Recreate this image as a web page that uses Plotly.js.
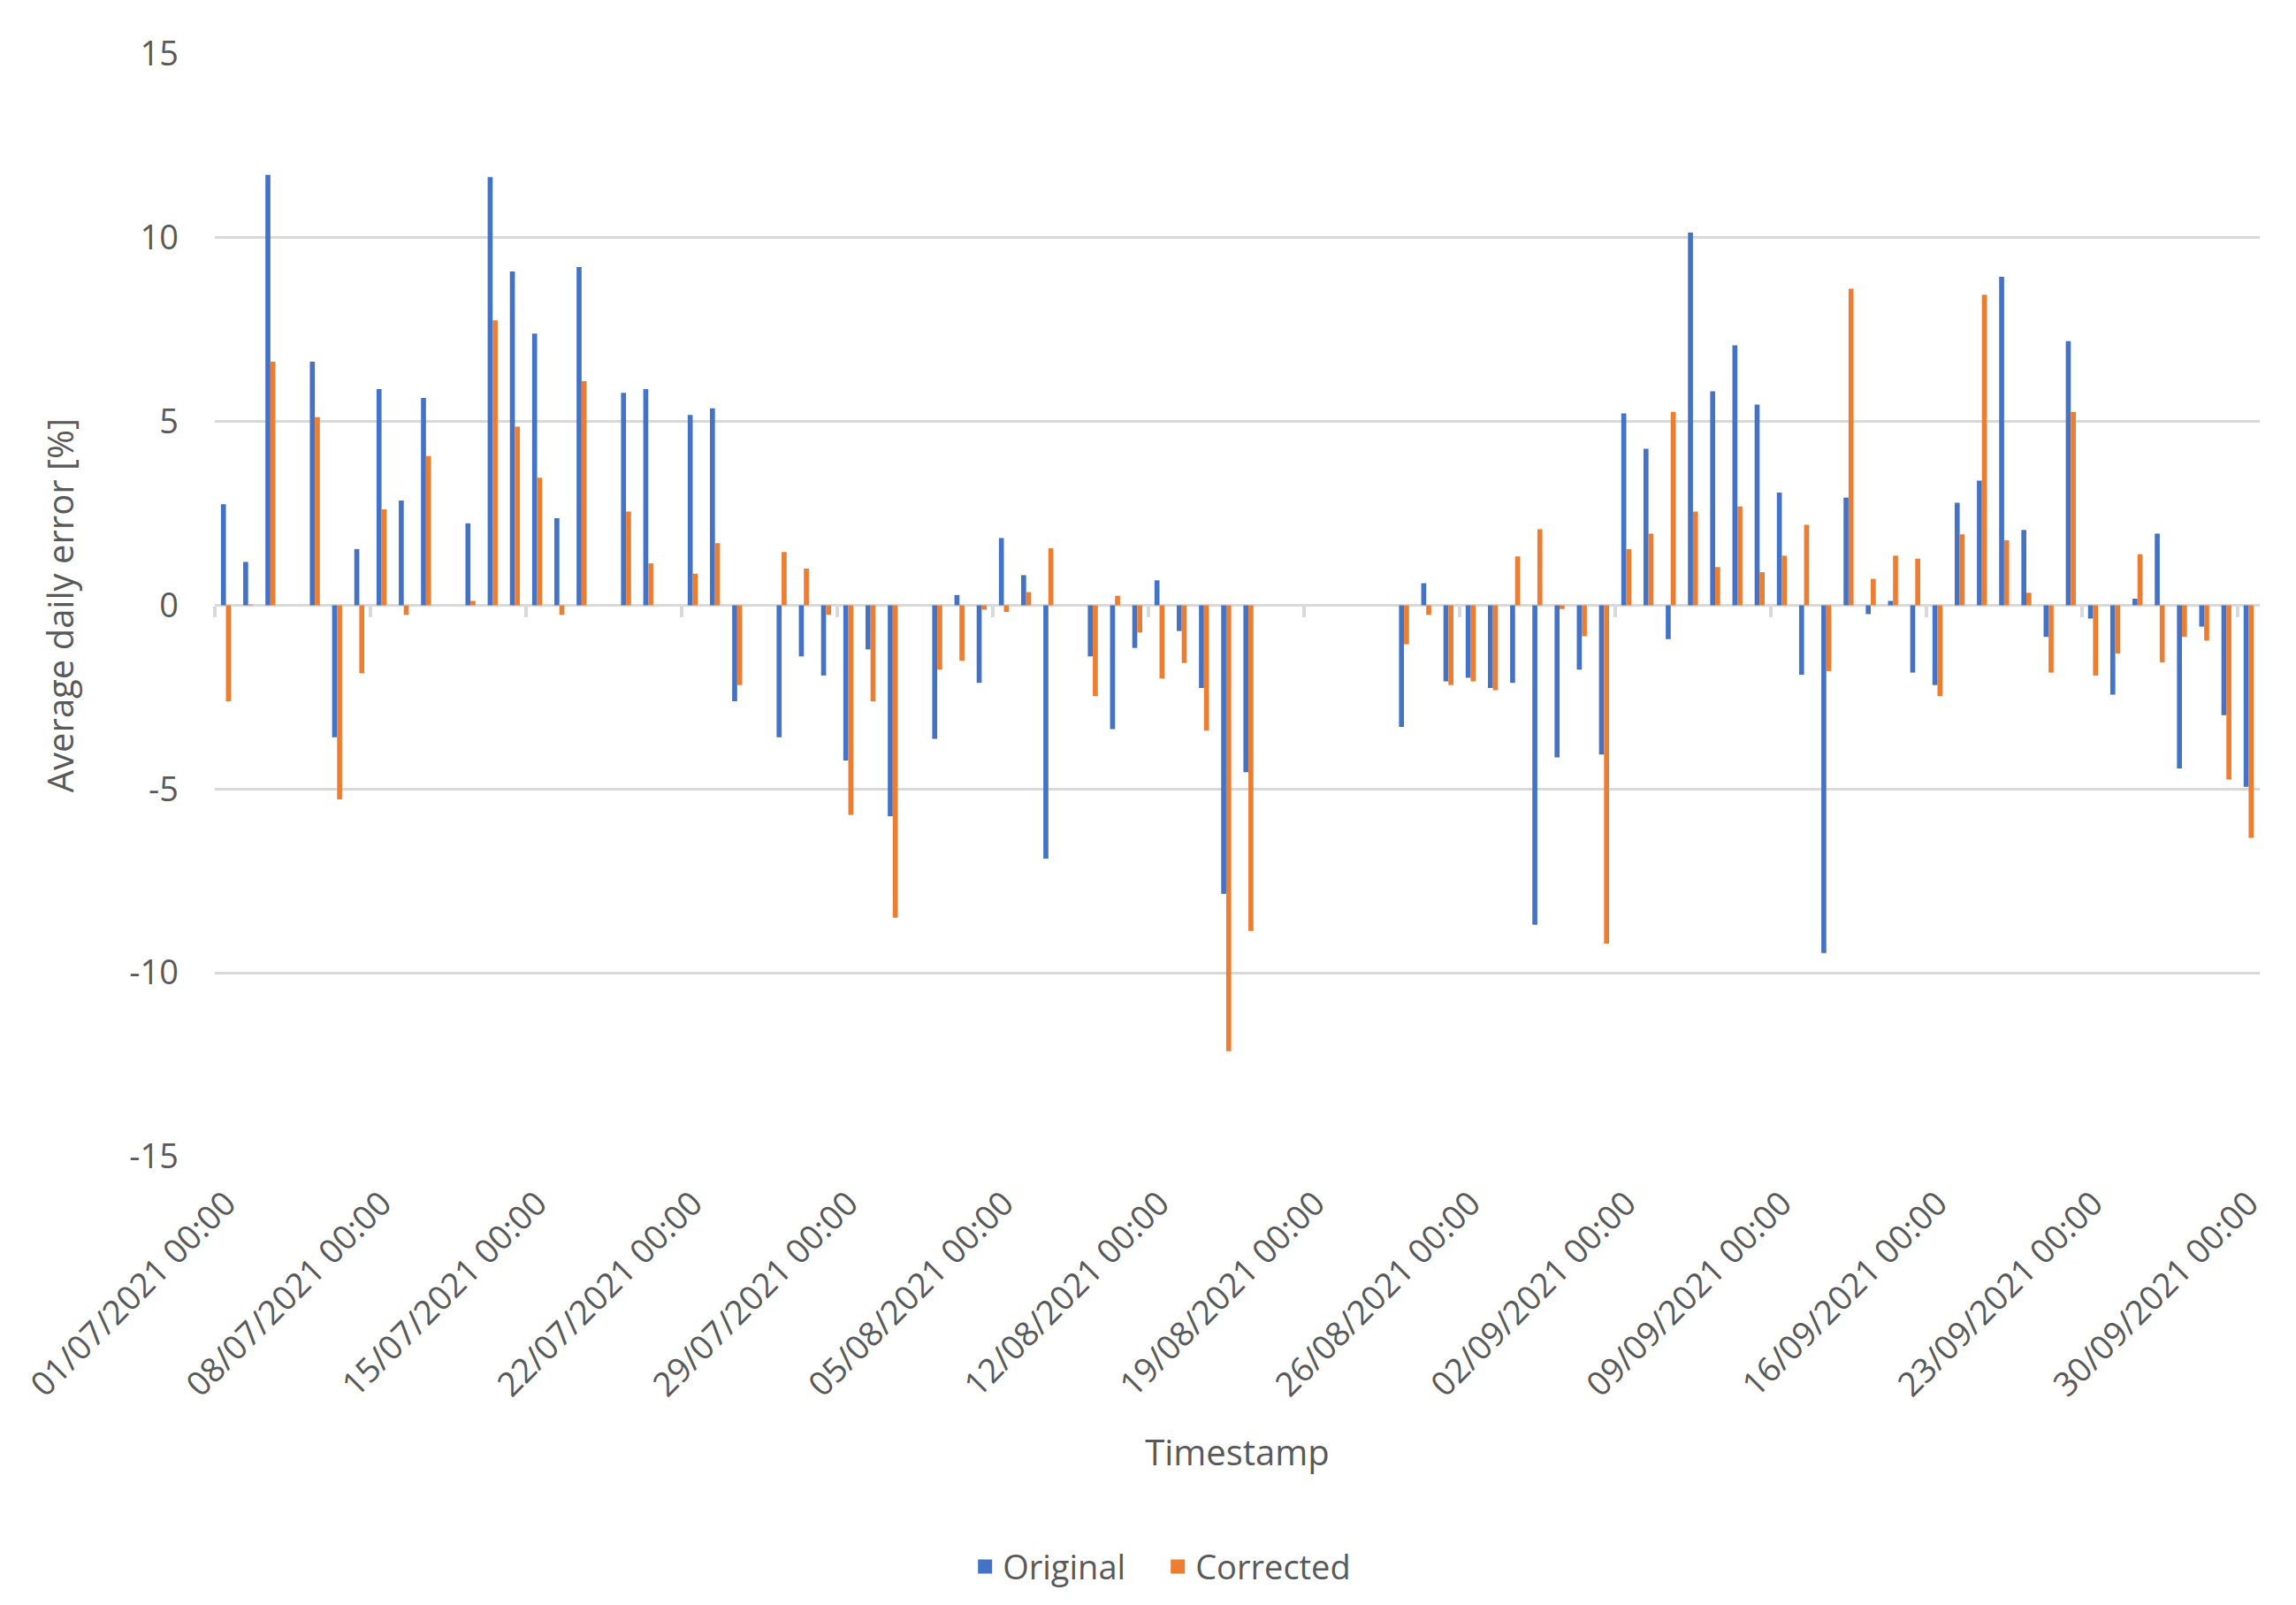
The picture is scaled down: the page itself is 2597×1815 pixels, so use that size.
<!DOCTYPE html>
<html>
<head>
<meta charset="utf-8">
<script src="https://cdn.plot.ly/plotly-3.0.1.min.js"></script>
<style>html,body{margin:0;padding:0;background:#fff;}#chart{width:2597px;height:1815px;}</style>
</head>
<body>
<div id="chart"></div>
<script>
// Category sequence: one slot per day, 01/07/2021 .. 30/09/2021
const startDate = '2021-07-01';
const dayCount = 92;
const days = [];
for (let i = 0; i < dayCount; i++) {
  const d = new Date(Date.UTC(2021, 6, 1 + i));
  days.push(d.toISOString().slice(0, 10));
}

// Average daily error [%] (null = no data that day)
const original = [
  2.75, 1.18, 11.71, null, 6.63, -3.59, 1.53, 5.88, 2.85, 5.64,
  null, 2.23, 11.65, 9.08, 7.39, 2.37, 9.2, null, 5.78, 5.88,
  null, 5.18, 5.36, -2.61, null, -3.59, -1.39, -1.91, -4.22, -1.2,
  -5.74, null, -3.63, 0.28, -2.11, 1.83, 0.82, -6.89, null, -1.39,
  -3.37, -1.16, 0.68, -0.70, -2.25, -7.85, -4.54, null, null, null,
  null, null, null, -3.31, 0.60, -2.07, -1.97, -2.25, -2.11, -8.69,
  -4.14, -1.75, -4.06, 5.22, 4.26, -0.92, 10.14, 5.82, 7.07, 5.46,
  3.07, -1.89, -9.46, 2.93, -0.24, 0.12, -1.83, -2.17, 2.79, 3.39,
  8.94, 2.05, -0.86, 7.19, -0.36, -2.43, 0.18, 1.95, -4.44, -0.58,
  -2.99, -4.94
];
const corrected = [
  -2.61, 0.02, 6.63, null, 5.12, -5.28, -1.85, 2.61, -0.26, 4.06,
  null, 0.12, 7.75, 4.86, 3.47, -0.26, 6.10, null, 2.55, 1.14,
  null, 0.86, 1.69, -2.17, null, 1.45, 1.0, -0.26, -5.70, -2.61,
  -8.5, null, -1.75, -1.51, -0.12, -0.18, 0.36, 1.55, null, -2.47,
  0.26, -0.74, -1.99, -1.57, -3.41, -12.13, -8.86, null, null, null,
  null, null, null, -1.06, -0.26, -2.17, -2.07, -2.31, 1.33, 2.07,
  -0.1, -0.84, -9.2, 1.53, 1.95, 5.26, 2.55, 1.04, 2.69, 0.90,
  1.35, 2.19, -1.79, 8.61, 0.72, 1.35, 1.27, -2.47, 1.93, 8.45,
  1.77, 0.34, -1.83, 5.26, -1.91, -1.31, 1.39, -1.55, -0.86, -0.96,
  -4.74, -6.33
];
const seriesNames = ['Original', 'Corrected'];
const seriesColors = ['#4472C4', '#ED7D31'];
const yTicks = [-15, -10, -5, 0, 5, 10, 15];
const yTickLabels = ['-15', '-10', '-5', '0', '5', '10', '15'];

const WEEK = 7 * 86400000;
const textColor = '#595959';
const fontFam = '"Open Sans", "Noto Sans", sans-serif';

const traces = [
  {type: 'bar', name: seriesNames[0], x: days, y: original, marker: {color: seriesColors[0]},
   legendgroup: 'o', showlegend: false},
  {type: 'bar', name: seriesNames[1], x: days, y: corrected, marker: {color: seriesColors[1]},
   legendgroup: 'c', showlegend: false},
  // legend entries (square swatches)
  {type: 'scatter', mode: 'markers', name: seriesNames[0], x: [null], y: [null], legendgroup: 'o',
   marker: {symbol: 'square', size: 23, color: seriesColors[0]}, hoverinfo: 'skip'},
  {type: 'scatter', mode: 'markers', name: seriesNames[1], x: [null], y: [null], legendgroup: 'c',
   marker: {symbol: 'square', size: 23, color: seriesColors[1]}, hoverinfo: 'skip'},
  // carrier for the category tick marks on the zero line
  {type: 'scatter', mode: 'markers', x: [days[0]], y: [null], xaxis: 'x2', showlegend: false, hoverinfo: 'skip'}
];

const layout = {
  width: 2597, height: 1815,
  paper_bgcolor: '#ffffff', plot_bgcolor: '#ffffff',
  margin: {l: 243, r: 41, t: 61, b: 500},
  font: {family: fontFam, color: textColor, size: 38},
  barmode: 'group', bargap: 0.55, bargroupgap: 0,
  showlegend: true,
  legend: {
    orientation: 'h', x: 0.368, xanchor: 'left', y: -0.372, yanchor: 'middle',
    font: {size: 38, color: textColor}, traceorder: 'normal',
    entrywidth: 173, entrywidthmode: 'pixels', itemsizing: 'trace'
  },
  xaxis: {
    type: 'date',
    range: ['2021-06-30 12:00', '2021-09-30 12:00'],
    tickmode: 'linear', tick0: startDate, dtick: WEEK,
    tickformat: '%d/%m/%Y %H:%M',
    tickangle: -45,
    ticks: '', showgrid: false, showline: false, zeroline: false,
    tickfont: {size: 38, color: textColor},
    ticklabelstandoff: 22,
    title: {text: 'Timestamp', font: {size: 40, color: textColor}, standoff: 40},
    automargin: false
  },
  xaxis2: {
    type: 'date', overlaying: 'x', matches: 'x', anchor: 'free', position: 0.5,
    side: 'bottom',
    tickmode: 'linear', tick0: '2021-06-30 12:00', dtick: WEEK,
    ticks: 'outside', ticklen: 12, tickwidth: 4, tickcolor: '#d9d9d9',
    showticklabels: false, showgrid: false, showline: false, zeroline: false
  },
  yaxis: {
    range: [-15, 15], tickmode: 'array', tickvals: yTicks, ticktext: yTickLabels,
    showgrid: true, gridcolor: '#d9d9d9', gridwidth: 3,
    zeroline: true, zerolinecolor: '#d9d9d9', zerolinewidth: 3,
    showline: false, ticks: '',
    tickfont: {size: 38, color: textColor},
    ticklabelstandoff: 40,
    title: {text: 'Average daily error [%]', font: {size: 40, color: textColor}, standoff: 50},
    automargin: false
  }
};

Plotly.newPlot('chart', traces, layout, {displayModeBar: false, staticPlot: true});
</script>
</body>
</html>
